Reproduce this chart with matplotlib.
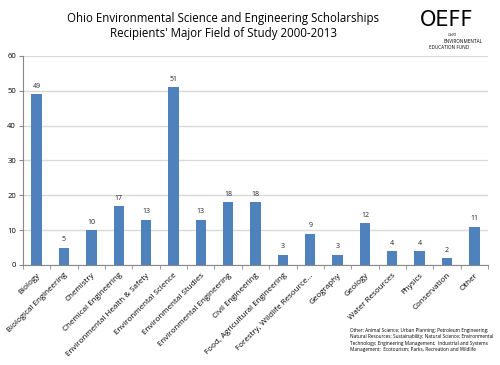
import matplotlib
matplotlib.use("Agg")
import matplotlib.pyplot as plt

BAR_BLUE = "#4F81BD"
GRID_GREY = "#D9D9D9"

fields = [
    "Biology", "Biological Engineering", "Chemistry", "Chemical Engineering",
    "Environmental Health & Safety", "Environmental Science", "Environmental Studies",
    "Environmental Engineering", "Civil Engineering", "Food, Agricultural Engineering",
    "Forestry, Wildlife Resource...", "Geography", "Geology", "Water Resources",
    "Physics", "Conservation", "Other",
]
recipients = [49, 5, 10, 17, 13, 51, 13, 18, 18, 3, 9, 3, 12, 4, 4, 2, 11]
y_ticks = [0, 10, 20, 30, 40, 50, 60]

title_lines = [
    "Ohio Environmental Science and Engineering Scholarships",
    "Recipients' Major Field of Study 2000-2013",
]
other_note = (
    "Other: Animal Science; Urban Planning; Petroleum Engineering;\n"
    "Natural Resources; Sustainability; Natural Science; Environmental\n"
    "Technology; Engineering Management;  Industrial and Systems\n"
    "Management;  Ecotourism; Parks, Recreation and Wildlife"
)

plt.rcParams["font.family"] = ["Open Sans", "DejaVu Sans"]

fig = plt.figure(figsize=(5.0, 3.65), dpi=100)
ax = fig.add_axes([0.046, 0.274, 0.930, 0.573])

xs = list(range(len(fields)))
ax.bar(xs, recipients, width=0.38, color=BAR_BLUE, zorder=3)
for x, v in zip(xs, recipients):
    ax.text(x, v + 1.2, str(v), ha="center", va="bottom", fontsize=5.0, color="#222222")

ax.set_xlim(-0.5, len(fields) - 0.5)
ax.set_ylim(0, 60)
ax.set_yticks(y_ticks)
ax.tick_params(axis="y", labelsize=5.5, length=3, color="#888888", pad=2)
ax.yaxis.grid(True, color=GRID_GREY, linewidth=1.0, zorder=0)

# category labels sit at bar centres, tick marks sit between categories (Excel style)
ax.set_xticks(xs)
ax.set_xticklabels(fields, rotation=45, ha="right", rotation_mode="anchor", fontsize=5.8)
ax.tick_params(axis="x", length=0, pad=5)
ax.set_xticks([x - 0.5 for x in xs] + [len(fields) - 0.5], minor=True)
ax.tick_params(axis="x", which="minor", length=3, color="#888888")

for side in ("top", "right"):
    ax.spines[side].set_visible(False)
for side in ("left", "bottom"):
    ax.spines[side].set_color("#888888")
    ax.spines[side].set_linewidth(0.8)

fig.text(0.446, 0.950, title_lines[0], ha="center", va="center", fontsize=8.3)
fig.text(0.446, 0.908, title_lines[1], ha="center", va="center", fontsize=8.3)

# logo, approximated with text
fig.text(0.840, 0.945, "OEFF", ha="left", va="center", fontsize=15, family="DejaVu Sans")
fig.text(0.896, 0.903, "OHIO", ha="left", va="center", fontsize=2.8, style="italic")
fig.text(0.886, 0.886, "ENVIRONMENTAL", ha="left", va="center", fontsize=3.3)
fig.text(0.858, 0.869, "EDUCATION FUND", ha="left", va="center", fontsize=3.3)

fig.text(0.700, 0.068, other_note, ha="left", va="center", fontsize=3.4, linespacing=1.35)

fig.savefig("out.png", dpi=100, facecolor="white")
